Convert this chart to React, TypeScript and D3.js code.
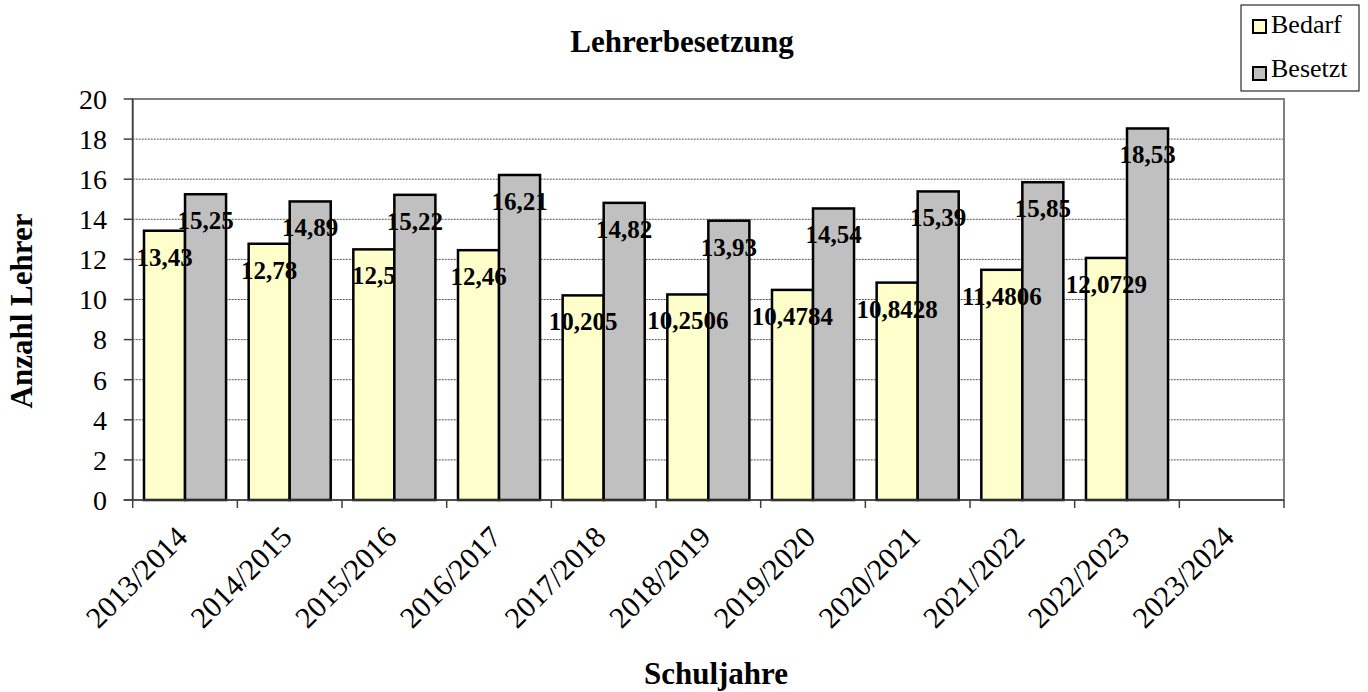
import React from "react";
import * as d3 from "d3";

const categories = [
  "2013/2014", "2014/2015", "2015/2016", "2016/2017", "2017/2018", "2018/2019",
  "2019/2020", "2020/2021", "2021/2022", "2022/2023", "2023/2024",
];
const seriesNames = ["Bedarf", "Besetzt"];
const bedarf: (number | null)[] = [13.43, 12.78, 12.5, 12.46, 10.205, 10.2506, 10.4784, 10.8428, 11.4806, 12.0729, null];
const besetzt: (number | null)[] = [15.25, 14.89, 15.22, 16.21, 14.82, 13.93, 14.54, 15.39, 15.85, 18.53, null];
const yTicks = [0, 2, 4, 6, 8, 10, 12, 14, 16, 18, 20];
const colors = ["#FFFFCC", "#C0C0C0"];

const W = 1368;
const H = 692;
const FONT = "Liberation Serif";

export default function App() {
  const left = 132.7, right = 1284, top = 99, bottom = 500;
  const x = d3.scaleBand<string>().domain(categories).range([left, right]).padding(0);
  const bw = x.bandwidth();
  const x1 = d3.scaleBand<string>().domain(seriesNames).range([bw * 0.108, bw * 0.892]).padding(0);
  const y = d3.scaleLinear().domain([0, 20]).range([bottom, top]);
  const seriesData = [bedarf, besetzt];
  const fmt = (v: number) => String(v).replace(".", ",");

  return (
    <svg width={W} height={H} style={{ display: "block", position: "absolute", left: 0, top: 0, background: "#fff" }}>
      <rect x={0} y={0} width={W} height={H} fill="#fff" />
      {/* gridlines */}
      {yTicks.filter((t) => t > 0 && t < 20).map((t) => (
        <line key={t} x1={left} x2={right} y1={y(t)} y2={y(t)} stroke="#555" strokeWidth={1} strokeDasharray="2,1" />
      ))}
      {/* plot border */}
      <rect x={left} y={y(20)} width={right - left} height={bottom - y(20)} fill="none" stroke="#808080" strokeWidth={2} />
      {/* bars */}
      {categories.map((c, i) =>
        seriesNames.map((s, j) => {
          const v = seriesData[j][i];
          if (v == null) return null;
          return (
            <rect key={c + s} x={(x(c) as number) + (x1(s) as number)} y={y(v)} width={x1.bandwidth()} height={y(0) - y(v)}
              fill={colors[j]} stroke="#000" strokeWidth={2.5} />
          );
        })
      )}
      {/* axes */}
      <line x1={left} x2={left} y1={y(20)} y2={bottom} stroke="#404040" strokeWidth={1.5} />
      <line x1={left - 9} x2={right} y1={bottom} y2={bottom} stroke="#404040" strokeWidth={1.5} />
      {yTicks.map((t) => (
        <g key={t}>
          <line x1={left - 9} x2={left} y1={y(t)} y2={y(t)} stroke="#404040" strokeWidth={1.5} />
          <text x={107} y={y(t)} dy="0.35em" textAnchor="end" fontFamily={FONT} fontSize={28} fill="#000">{t}</text>
        </g>
      ))}
      {categories.map((c) => (
        <line key={"xt" + c} x1={x(c) as number} x2={x(c) as number} y1={bottom} y2={bottom + 8} stroke="#404040" strokeWidth={1.5} />
      ))}
      <line x1={right} x2={right} y1={bottom} y2={bottom + 8} stroke="#404040" strokeWidth={1.5} />
      {categories.map((c) => {
        const cx = (x(c) as number) + bw / 2 + 4;
        const cy = 539;
        return (
          <text key={"xl" + c} x={cx} y={cy} transform={`rotate(-45 ${cx} ${cy})`} textAnchor="end" fontFamily={FONT} fontSize={30} fill="#000">{c}</text>
        );
      })}
      {/* data labels */}
      {categories.map((c, i) =>
        seriesNames.map((s, j) => {
          const v = seriesData[j][i];
          if (v == null) return null;
          const cx = (x(c) as number) + (x1(s) as number) + x1.bandwidth() / 2;
          return (
            <text key={"dl" + c + s} x={cx} y={y(v) + 35} textAnchor="middle" fontFamily={FONT} fontSize={25} fontWeight="bold" fill="#000">{fmt(v)}</text>
          );
        })
      )}
      {/* titles */}
      <text x={682} y={52} textAnchor="middle" fontFamily={FONT} fontSize={31} fontWeight="bold" fill="#000">Lehrerbesetzung</text>
      <text x={716} y={684} textAnchor="middle" fontFamily={FONT} fontSize={31} fontWeight="bold" fill="#000">Schuljahre</text>
      <text transform={`translate(32 311) rotate(-90)`} textAnchor="middle" fontFamily={FONT} fontSize={31} fontWeight="bold" fill="#000">Anzahl Lehrer</text>
      {/* legend */}
      <rect x={1241} y={5} width={118} height={86} fill="#fff" stroke="#000" strokeWidth={1} />
      {seriesNames.map((s, j) => (
        <g key={"lg" + s}>
          <rect x={1253} y={20 + j * 47} width={13} height={13} fill={colors[j]} stroke="#000" strokeWidth={2} />
          <text x={1271} y={33 + j * 44} fontFamily={FONT} fontSize={26} fill="#000">{s}</text>
        </g>
      ))}
    </svg>
  );
}
